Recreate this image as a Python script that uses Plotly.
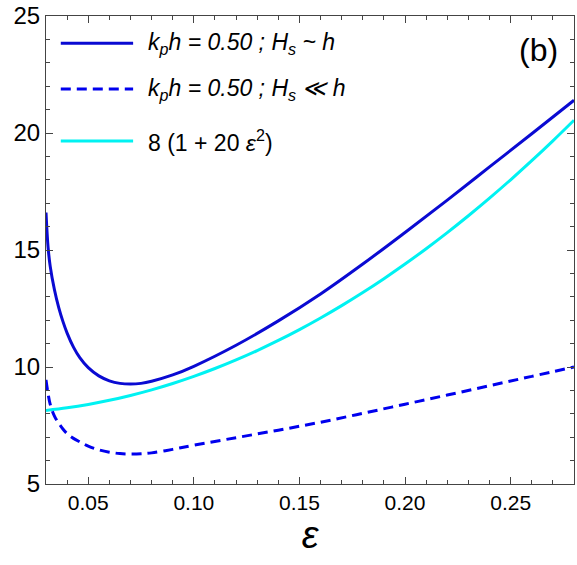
import plotly.graph_objects as go

# epsilon grid for the two k_p h curves
eps = [0.030, 0.031, 0.032, 0.034, 0.036, 0.038, 0.040, 0.043, 0.046, 0.050,
       0.055, 0.060, 0.065, 0.070, 0.075, 0.080, 0.090, 0.100, 0.120, 0.140,
       0.160, 0.180, 0.200, 0.220, 0.240, 0.260, 0.280]

# H_s ~ h (solid)
y_finite = [16.6, 15.1, 14.3, 13.3, 12.55, 11.95, 11.45, 10.85, 10.4, 9.97,
            9.62, 9.41, 9.3, 9.27, 9.3, 9.39, 9.66, 10.03, 10.93, 11.97,
            13.12, 14.4, 15.75, 17.13, 18.55, 19.97, 21.4]

# H_s << h (dashed)
y_small = [9.45, 8.85, 8.4, 7.9, 7.6, 7.35, 7.15, 6.95, 6.8, 6.62,
           6.46, 6.36, 6.3, 6.28, 6.29, 6.33, 6.48, 6.66, 6.98, 7.3,
           7.64, 8.02, 8.41, 8.8, 9.2, 9.6, 10.0]

# 8 (1 + 20 eps^2)
eps_c = [0.03, 0.04, 0.05, 0.06, 0.07, 0.08, 0.09, 0.10, 0.11, 0.12, 0.13,
         0.14, 0.15, 0.16, 0.17, 0.18, 0.19, 0.20, 0.21, 0.22, 0.23, 0.24,
         0.25, 0.26, 0.27, 0.28]
y_fit = [8.144, 8.256, 8.4, 8.576, 8.784, 9.024, 9.296, 9.6, 9.936, 10.304,
         10.704, 11.136, 11.6, 12.096, 12.624, 13.184, 13.776, 14.4, 15.056,
         15.744, 16.464, 17.216, 18.0, 18.816, 19.664, 20.544]

labels = [
    "<i>k<sub>p</sub>h = 0.50 ; H<sub>s</sub> ~ h</i>",
    "<i>k<sub>p</sub>h = 0.50 ; H<sub>s</sub> \u226a h</i>",
    "8 (1 + 20 <i>\u03b5</i><sup>2</sup>)",
]

BLUE = "#0a0ad2"
BLUE2 = "#0000ee"
CYAN = "#00f2f2"
FONT = "Liberation Sans, Arial, sans-serif"

fig = go.Figure()
fig.add_trace(go.Scatter(x=eps_c, y=y_fit, mode="lines", line_shape="spline",
                         line=dict(color=CYAN, width=3), name=labels[2]))
fig.add_trace(go.Scatter(x=eps, y=y_small, mode="lines", line_shape="spline",
                         line=dict(color=BLUE2, width=3, dash="10px,6px"),
                         name=labels[1]))
fig.add_trace(go.Scatter(x=eps, y=y_finite, mode="lines", line_shape="spline",
                         line=dict(color=BLUE, width=3), name=labels[0]))

# hand-made legend (long line samples like the original)
leg_y = [0.942, 0.844, 0.733]
leg_style = [dict(color=BLUE, width=3), dict(color=BLUE2, width=3, dash="10px,6px"),
             dict(color=CYAN, width=3)]
for yy, st, lab in zip(leg_y, leg_style, labels):
    fig.add_shape(type="line", xref="paper", yref="paper",
                  x0=0.028, x1=0.165, y0=yy, y1=yy, line=st)
    fig.add_annotation(xref="paper", yref="paper", x=0.189, y=yy, text=lab,
                       showarrow=False, xanchor="left", yanchor="middle",
                       font=dict(size=23, color="black", family=FONT))

fig.add_annotation(xref="paper", yref="paper", x=0.974, y=0.927, text="(b)",
                   showarrow=False, xanchor="right", yanchor="middle",
                   font=dict(size=32, color="black", family=FONT))

axis_common = dict(showline=True, linecolor="#444", linewidth=1, mirror="allticks",
                   ticks="inside", ticklen=7, tickwidth=1, tickcolor="#444",
                   showgrid=False, zeroline=False)

fig.update_xaxes(range=[0.03, 0.28], dtick=0.05, tick0=0, tickformat=".2f",
                 tickfont=dict(size=21, family=FONT, color="black"),
                 minor=dict(dtick=0.01, ticks="inside", ticklen=4, tickcolor="#444"),
                 title=dict(text="<i>\u03b5</i>", standoff=8,
                            font=dict(size=38, family=FONT, color="black")),
                 **axis_common)
fig.update_yaxes(range=[5, 25], dtick=5, tick0=0,
                 tickfont=dict(size=24, family=FONT, color="black"),
                 minor=dict(dtick=1, ticks="inside", ticklen=4, tickcolor="#444"),
                 **axis_common)

fig.update_layout(width=577, height=565, showlegend=False,
                  plot_bgcolor="white", paper_bgcolor="white",
                  margin=dict(l=46, r=3, t=16, b=81),
                  font=dict(family=FONT, color="black"))

fig.write_html("out.html", config={"displayModeBar": False},
               post_script="document.body.style.margin='0';")
